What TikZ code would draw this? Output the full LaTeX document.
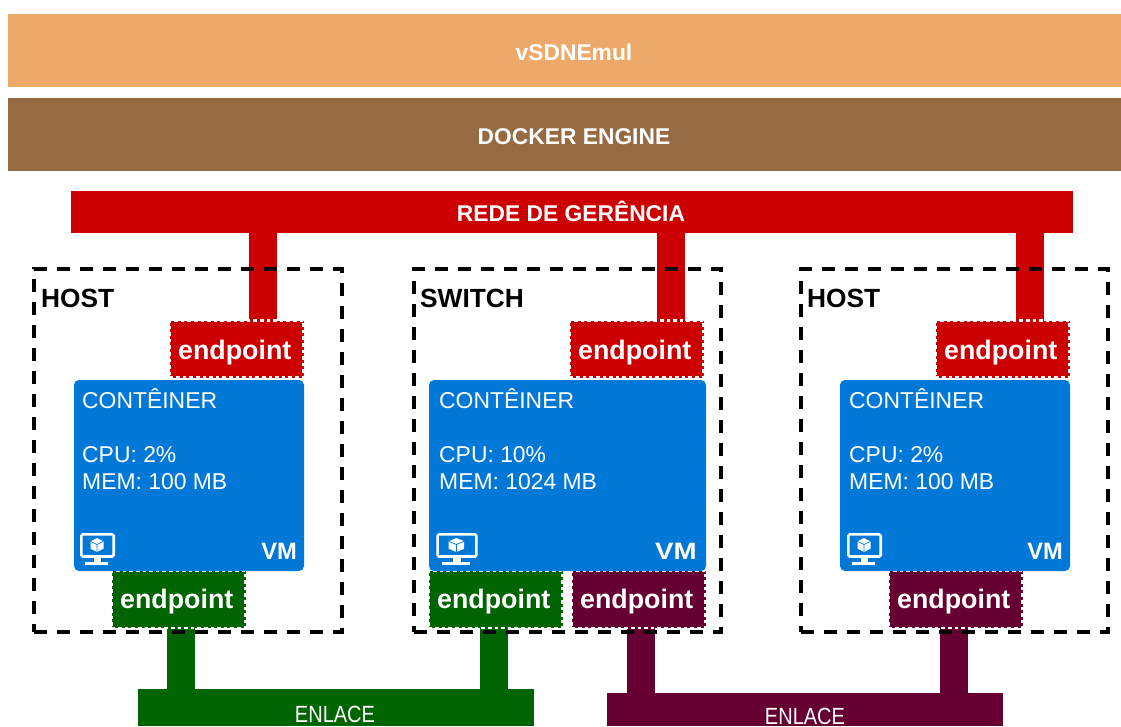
\documentclass[tikz,border=0pt]{standalone}
\usepackage{fontspec}
\usetikzlibrary{backgrounds}
\setmainfont{Liberation Sans}
\definecolor{orangebar}{HTML}{EDA969}
\definecolor{brownbar}{HTML}{966A43}
\definecolor{redbar}{HTML}{CC0000}
\definecolor{greenbar}{HTML}{006400}
\definecolor{purplebar}{HTML}{660033}
\definecolor{vmblue}{HTML}{0078D7}
\newcommand{\fsz}[1]{\fontsize{#1}{#1}\selectfont}
\newcommand{\eptxt}[1]{\hspace*{-3.5pt}\raisebox{#1}[0pt][0pt]{endpoint}}
\newcommand{\enl}{\scalebox{1}[1.17]{ENLACE}}
\newcommand{\vmicon}[2]{%
  \begin{scope}[shift={(#1,533)},xscale=#2]
    \draw[white,line width=2.6,rounded corners=1.5] (1.3,1.3) rectangle (33.7,23.5);
    \fill[white] (14,24) rectangle (21,29);
    \fill[white] (5,29) rectangle (28,31.5);
    \fill[white] (17,5) -- (23.5,8.3) -- (23.5,15.7) -- (17,19) -- (10.5,15.7) -- (10.5,8.3) -- cycle;
    \draw[vmblue,line width=.7] (10.5,8.3) -- (17,11.5) -- (23.5,8.3) (17,11.5) -- (17,19);
  \end{scope}}
\tikzset{
  x=1pt,y=-1pt,
  bar/.style={inner sep=0,outer sep=0,text=white,font=\bfseries\fsz{22.8}},
  stem/.style={line width=28,line cap=butt},
  ep/.style={bar,draw=white,line width=2.2,dash pattern=on 3.6pt off 3pt,
    minimum width=134,minimum height=57,font=\bfseries\fsz{26.8}},
  vmbox/.style={fill=vmblue,draw=none,rounded corners=5,inner sep=0,outer sep=0,minimum height=191},
  group/.style={draw=black,line width=3.5,dash pattern=on 13pt off 10pt,inner sep=0,outer sep=0,minimum height=363},
  grouptitle/.style={anchor=base west,inner sep=0,font=\bfseries\fsz{26.3}},
  info/.style={anchor=base west,inner sep=0,text=white,font=\fsz{22.9}},
  vmtag/.style={anchor=base east,inner sep=0,text=white,font=\bfseries\fsz{23.7}},
}
\begin{document}
\begin{tikzpicture}
\useasboundingbox (0,0) rectangle (1121,726);
\node[bar,fill=orangebar,minimum width=1113,minimum height=73] (vsdn) at (564.5,50.5) {};
\node[bar,anchor=base] (vsdnlabel) at (574,60.5) {vSDNEmul};
\node[bar,fill=brownbar,minimum width=1113,minimum height=73] (docker) at (564.5,134.5) {};
\node[bar,anchor=base] (dockerlabel) at (574,144.5) {DOCKER ENGINE};
\node[bar,fill=redbar,minimum width=1002,minimum height=42] (rede) at (572,212) {};
\node[bar,anchor=base] (redelabel) at (571,221) {REDE DE GERÊNCIA};
\node[bar,fill=greenbar,minimum width=396,minimum height=37] (enlaceA) at (336,707.5) {};
\node[bar,font=\fsz{20},anchor=base] (enlaceAlabel) at (335,722) {\enl};
\node[bar,fill=purplebar,minimum width=396,minimum height=33] (enlaceB) at (805,709.5) {};
\node[bar,font=\fsz{20},anchor=base] (enlaceBlabel) at (805,724.5) {\enl};

\coordinate (s1) at (263,0);
\coordinate (s2) at (671,0);
\coordinate (s3) at (1030,0);
\coordinate (s4) at (181,0);
\coordinate (s5) at (494,0);
\coordinate (s6) at (641,0);
\coordinate (s7) at (954,0);

\node[ep,fill=redbar] (er1) at (236.5,349) {\eptxt{-10.5pt}};
\node[ep,fill=redbar] (er2) at (636.5,349) {\eptxt{-10.5pt}};
\node[ep,fill=redbar] (er3) at (1002.5,349) {\eptxt{-10.5pt}};
\node[ep,fill=greenbar] (eg1) at (178.5,599.5) {\eptxt{-9pt}};
\node[ep,fill=greenbar] (eg2) at (495.5,599.5) {\eptxt{-9pt}};
\node[ep,fill=purplebar] (ep2) at (638.5,599.5) {\eptxt{-9pt}};
\node[ep,fill=purplebar] (ep3) at (955.5,599.5) {\eptxt{-9pt}};

\begin{pgfonlayer}{background}
\fill[white] (0,0) rectangle (1121,726);
\draw[stem,redbar] (rede.south -| s1) -- (er1.north -| s1);
\draw[stem,redbar] (rede.south -| s2) -- (er2.north -| s2);
\draw[stem,redbar] (rede.south -| s3) -- (er3.north -| s3);
\draw[stem,greenbar] (eg1.south -| s4) -- (enlaceA.north -| s4);
\draw[stem,greenbar] (eg2.south -| s5) -- (enlaceA.north -| s5);
\draw[stem,purplebar] (ep2.south -| s6) -- (enlaceB.north -| s6);
\draw[stem,purplebar] (ep3.south -| s7) -- (enlaceB.north -| s7);
\end{pgfonlayer}

\node[group,minimum width=308] (g1) at (188,450.5) {};
\node[group,minimum width=307] (g2) at (567.5,450.5) {};
\node[group,minimum width=307] (g3) at (954.5,450.5) {};
\node[grouptitle] (t1) at (41,307) {HOST};
\node[grouptitle] (t2) at (420,307) {SWITCH};
\node[grouptitle] (t3) at (807,307) {HOST};

\node[vmbox,minimum width=230] (c1) at (189,475.5) {};
\node[vmbox,minimum width=277] (c2) at (567.5,475.5) {};
\node[vmbox,minimum width=230] (c3) at (955,475.5) {};

\node[info] (c1a) at (82,408.5) {CONTÊINER};
\node[info] (c1b) at (82,462.5) {CPU: 2\%};
\node[info] (c1c) at (82,489.5) {MEM: 100 MB};
\node[info] (c2a) at (439,408.5) {CONTÊINER};
\node[info] (c2b) at (439,462.5) {CPU: 10\%};
\node[info] (c2c) at (439,489.5) {MEM: 1024 MB};
\node[info] (c3a) at (849,408.5) {CONTÊINER};
\node[info] (c3b) at (849,462.5) {CPU: 2\%};
\node[info] (c3c) at (849,489.5) {MEM: 100 MB};

\vmicon{80}{1}
\vmicon{436}{1.2}
\vmicon{847}{1}
\node[vmtag] (v1) at (297,559) {VM};
\node[vmtag] (v2) at (697,559) {\scalebox{1.17}[1]{VM}};
\node[vmtag] (v3) at (1063,559) {VM};
\end{tikzpicture}
\end{document}
